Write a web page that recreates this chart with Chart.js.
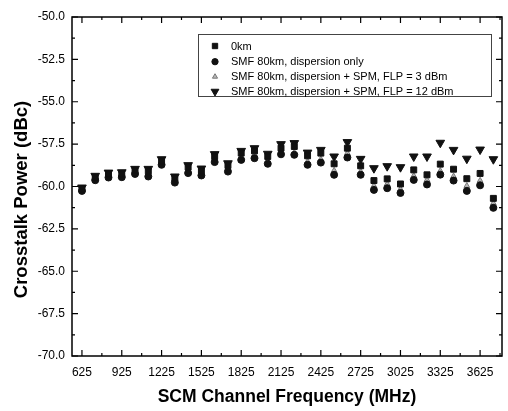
<!DOCTYPE html>
<html>
<head>
<meta charset="utf-8">
<script src="https://cdn.jsdelivr.net/npm/chart.js@4"></script>
<style>
  html, body { margin: 0; padding: 0; background: #fff; }
  #wrap { width: 508px; height: 411px; }
</style>
</head>
<body>
<div id="wrap"><canvas id="xtalkChart" width="508" height="411"></canvas></div>
<script>
var freqs = [625, 725, 825, 925, 1025, 1125, 1225, 1325, 1425, 1525, 1625, 1725, 1825, 1925, 2025, 2125,
             2225, 2325, 2425, 2525, 2625, 2725, 2825, 2925, 3025, 3125, 3225, 3325, 3425, 3525, 3625, 3725];

var km0 = [-60.14, -59.45, -59.26, -59.24, -59.04, -59.08, -58.49, -59.51, -58.86, -59.06, -58.23, -58.76, -58.03, -57.90, -58.23, -57.74,
           -57.64, -58.19, -58.03, -58.66, -57.74, -58.78, -59.65, -59.55, -59.85, -59.02, -59.31, -58.68, -58.98, -59.54, -59.23, -60.70];

var dispOnly = [-60.26, -59.63, -59.47, -59.45, -59.26, -59.41, -58.72, -59.77, -59.21, -59.35, -58.56, -59.12, -58.43, -58.33, -58.66, -58.10,
                -58.13, -58.72, -58.59, -59.31, -58.29, -59.31, -60.20, -60.10, -60.38, -59.61, -59.88, -59.30, -59.65, -60.26, -59.93, -61.26];

var flp3 = [-60.20, -59.55, -59.37, -59.35, -59.16, -59.28, -58.63, -59.65, -59.06, -59.21, -58.43, -58.96, -58.27, -58.13, -58.47, -58.00,
            -58.00, -58.53, -58.39, -59.06, -58.03, -59.12, -59.96, -59.85, -60.16, -59.37, -59.61, -59.08, -59.40, -59.96, -59.65, -60.99];

var flp12 = [-60.06, -59.37, -59.18, -59.16, -58.96, -58.96, -58.39, -59.41, -58.74, -58.94, -58.09, -58.63, -57.90, -57.74, -58.07, -57.50,
             -57.44, -58.00, -57.84, -58.23, -57.38, -58.37, -58.92, -58.80, -58.86, -58.23, -58.23, -57.42, -57.84, -58.36, -57.82, -58.39];

var xTickLabels = [625, 925, 1225, 1525, 1825, 2125, 2425, 2725, 3025, 3325, 3625];
var seriesNames = ['0km', 'SMF 80km, dispersion only', 'SMF 80km, dispersion + SPM, FLP = 3 dBm', 'SMF 80km, dispersion + SPM, FLP = 12 dBm'];
var yTitle = 'Crosstalk Power (dBc)';

function pts(ys) {
    return freqs.map(function (f, i) { return { x: f, y: ys[i] }; });
}

// frame, inward ticks, y title and the boxed legend
var framePlugin = {
    id: 'frame',
    afterDraw: function (chart) {
        var ctx = chart.ctx, a = chart.chartArea;
        var xs = chart.scales.x, ys = chart.scales.y;
        ctx.save();
        ctx.strokeStyle = '#000';
        ctx.lineWidth = 1.5;
        ctx.strokeRect(a.left, a.top, a.right - a.left, a.bottom - a.top);

        ctx.lineWidth = 1.2;
        ctx.beginPath();
        xTickLabels.forEach(function (v) {
            var px = xs.getPixelForValue(v);
            ctx.moveTo(px, a.bottom); ctx.lineTo(px, a.bottom - 6);
            ctx.moveTo(px, a.top); ctx.lineTo(px, a.top + 6);
            var m = xs.getPixelForValue(v + 150);
            if (m < a.right) {
                ctx.moveTo(m, a.bottom); ctx.lineTo(m, a.bottom - 3);
                ctx.moveTo(m, a.top); ctx.lineTo(m, a.top + 3);
            }
        });
        for (var v = -70; v <= -50; v += 1.25) {
            var py = ys.getPixelForValue(v);
            var len = (Math.abs(v / 2.5 - Math.round(v / 2.5)) < 0.01) ? 6 : 3;
            ctx.moveTo(a.left, py); ctx.lineTo(a.left + len, py);
            ctx.moveTo(a.right, py); ctx.lineTo(a.right - len, py);
        }
        ctx.stroke();

        // y axis title (sits a bit below the plot centre in the original)
        ctx.save();
        ctx.translate(22, 199.5);
        ctx.rotate(-Math.PI / 2);
        ctx.font = 'bold 18.5px "Liberation Sans", Arial, sans-serif';
        ctx.textAlign = 'center';
        ctx.textBaseline = 'middle';
        ctx.fillStyle = '#000';
        ctx.fillText(yTitle, 0, 0);
        ctx.restore();

        // legend
        var lx = 198, ly = 34, lw = 293, lh = 62;
        ctx.lineWidth = 1;
        ctx.strokeStyle = '#444';
        ctx.strokeRect(lx + 0.5, ly + 0.5, lw, lh);
        var rows = [46, 61.7, 76.7, 91.5];
        ctx.font = '11px "Liberation Sans", Arial, sans-serif';
        ctx.textBaseline = 'middle';
        chart.data.datasets.forEach(function (ds, i) {
            var ry = rows[i];
            ctx.save();
            ctx.fillStyle = ds.pointBackgroundColor;
            ctx.strokeStyle = ds.pointBorderColor;
            ctx.lineWidth = 1;
            Chart.helpers.drawPoint(ctx, {
                pointStyle: ds.pointStyle,
                radius: ds.pointRadius * 0.9,
                rotation: ds.pointRotation || 0,
                borderWidth: 1
            }, 215, ry);
            ctx.restore();
            ctx.fillStyle = '#000';
            ctx.fillText(ds.label, 231, ry + 0.5);
        });
        ctx.restore();
    }
};

var ctxX = document.getElementById('xtalkChart').getContext('2d');
var xtalkChart = new Chart(ctxX, {
    type: 'scatter',
    data: {
        datasets: [
            {
                label: seriesNames[0],
                data: pts(km0),
                pointStyle: 'rect',
                pointRadius: 4.2,
                pointBackgroundColor: '#111',
                pointBorderColor: '#111'
            },
            {
                label: seriesNames[1],
                data: pts(dispOnly),
                pointStyle: 'circle',
                pointRadius: 3.5,
                pointBackgroundColor: '#111',
                pointBorderColor: '#111'
            },
            {
                label: seriesNames[2],
                data: pts(flp3),
                pointStyle: 'triangle',
                pointRadius: 3.3,
                pointBackgroundColor: '#b8b8b8',
                pointBorderColor: '#777'
            },
            {
                label: seriesNames[3],
                data: pts(flp12),
                pointStyle: 'triangle',
                pointRotation: 180,
                pointRadius: 5,
                pointBackgroundColor: '#111',
                pointBorderColor: '#111'
            }
        ]
    },
    options: {
        responsive: false,
        animation: false,
        events: [],
        layout: { padding: { left: 0, right: 1, top: 17, bottom: 0 } },
        scales: {
            x: {
                type: 'linear',
                min: 550,
                max: 3790,
                afterBuildTicks: function (scale) {
                    scale.ticks = xTickLabels.map(function (v) { return { value: v }; });
                },
                afterFit: function (scale) { scale.height = 55; },
                grid: { display: false, drawTicks: false },
                border: { display: false },
                ticks: {
                    padding: 9,
                    maxRotation: 0,
                    autoSkip: false,
                    color: '#000',
                    font: { family: '"Liberation Sans", Arial, sans-serif', size: 12 },
                    callback: function (v) { return String(v); }
                },
                title: {
                    display: true,
                    text: 'SCM Channel Frequency (MHz)',
                    color: '#000',
                    padding: { top: 0, bottom: 3 },
                    font: { family: '"Liberation Sans", Arial, sans-serif', size: 17.5, weight: 'bold' }
                }
            },
            y: {
                min: -70,
                max: -50,
                afterFit: function (scale) { scale.width = 72; },
                grid: { display: false, drawTicks: false },
                border: { display: false },
                ticks: {
                    stepSize: 2.5,
                    padding: 7,
                    color: '#000',
                    font: { family: '"Liberation Sans", Arial, sans-serif', size: 12 },
                    callback: function (v) { return v.toFixed(1); }
                },
                title: { display: false }
            }
        },
        plugins: {
            legend: { display: false },
            tooltip: { enabled: false }
        }
    },
    plugins: [framePlugin]
});
</script>
</body>
</html>
